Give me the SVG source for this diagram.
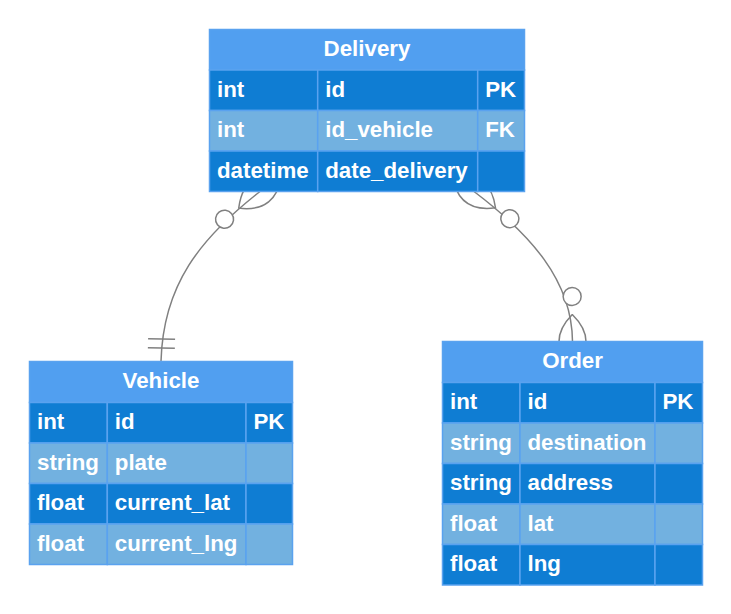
<svg xmlns="http://www.w3.org/2000/svg" width="731" height="614" viewBox="0 0 731 614">
<style>
.hdr{fill:#519ff0;stroke:#5aa2ef;stroke-width:1.5}
.dk{fill:#0f7dd3;stroke:#5aa2ef;stroke-width:1.5}
.lt{fill:#72b1e0;stroke:#5aa2ef;stroke-width:1.5}
text{font-family:"Liberation Sans",Arial,sans-serif;font-weight:bold;font-size:22.3px;fill:#ffffff}
.t{text-anchor:middle}
.rel{fill:none;stroke:#808080;stroke-width:1.5}
.mk{fill:none;stroke:#808080}
.mc{fill:#ffffff;stroke:#808080}
</style>
<defs>
<marker id="zmStart" refX="18" refY="18" markerWidth="57" markerHeight="36" orient="auto" overflow="visible">
<circle class="mc" cx="48" cy="18" r="6"/>
<path class="mk" d="M0,18 Q18,0 36,18 Q18,36 0,18"/>
</marker>
<marker id="zmEnd" refX="39" refY="18" markerWidth="57" markerHeight="36" orient="auto" overflow="visible">
<circle class="mc" cx="9" cy="18" r="6"/>
<path class="mk" d="M21,18 Q39,0 57,18 Q39,36 21,18"/>
</marker>
<marker id="oneEnd" refX="18" refY="9" markerWidth="18" markerHeight="18" orient="auto" overflow="visible">
<path class="mk" d="M3,0 L3,18 M9,0 L9,18"/>
</marker>
</defs>
<g id="connectors">
<path class="rel" d="M260,191.5 C200,238.4 163,285 161,361.5" marker-start="url(#zmStart)" marker-end="url(#oneEnd)"/>
<path class="rel" d="M474,191.5 C530,234 572,280 572.5,341.5" marker-start="url(#zmStart)" marker-end="url(#zmEnd)"/>
</g>
<g id="Delivery">
<rect class="hdr" x="209.5" y="29.5" width="315" height="40.5"/>
<text class="t" x="367" y="56">Delivery</text>
<rect class="dk" x="209.5" y="70" width="108.2" height="40.5"/>
<rect class="dk" x="317.7" y="70" width="160" height="40.5"/>
<rect class="dk" x="477.7" y="70" width="46.8" height="40.5"/>
<rect class="lt" x="209.5" y="110.5" width="108.2" height="40.5"/>
<rect class="lt" x="317.7" y="110.5" width="160" height="40.5"/>
<rect class="lt" x="477.7" y="110.5" width="46.8" height="40.5"/>
<rect class="dk" x="209.5" y="151" width="108.2" height="40.5"/>
<rect class="dk" x="317.7" y="151" width="160" height="40.5"/>
<rect class="dk" x="477.7" y="151" width="46.8" height="40.5"/>
<text x="217" y="96.5">int</text><text x="325.2" y="96.5">id</text><text x="485.2" y="96.5">PK</text>
<text x="217" y="137">int</text><text x="325.2" y="137">id_vehicle</text><text x="485.2" y="137">FK</text>
<text x="217" y="177.5">datetime</text><text x="325.2" y="177.5">date_delivery</text>
</g>
<g id="Vehicle">
<rect class="hdr" x="29.5" y="361.5" width="263" height="41"/>
<text class="t" x="161" y="388">Vehicle</text>
<rect class="dk" x="29.5" y="402.5" width="77.8" height="40.5"/>
<rect class="dk" x="107.3" y="402.5" width="138.7" height="40.5"/>
<rect class="dk" x="246" y="402.5" width="46.5" height="40.5"/>
<rect class="lt" x="29.5" y="443" width="77.8" height="40.5"/>
<rect class="lt" x="107.3" y="443" width="138.7" height="40.5"/>
<rect class="lt" x="246" y="443" width="46.5" height="40.5"/>
<rect class="dk" x="29.5" y="483.5" width="77.8" height="40.5"/>
<rect class="dk" x="107.3" y="483.5" width="138.7" height="40.5"/>
<rect class="dk" x="246" y="483.5" width="46.5" height="40.5"/>
<rect class="lt" x="29.5" y="524" width="77.8" height="40.5"/>
<rect class="lt" x="107.3" y="524" width="138.7" height="40.5"/>
<rect class="lt" x="246" y="524" width="46.5" height="40.5"/>
<text x="37" y="429">int</text><text x="114.8" y="429">id</text><text x="253.5" y="429">PK</text>
<text x="37" y="469.5">string</text><text x="114.8" y="469.5">plate</text>
<text x="37" y="510">float</text><text x="114.8" y="510">current_lat</text>
<text x="37" y="550.5">float</text><text x="114.8" y="550.5">current_lng</text>
</g>
<g id="Order">
<rect class="hdr" x="442.5" y="341.5" width="260" height="41"/>
<text class="t" x="572.5" y="368">Order</text>
<rect class="dk" x="442.5" y="382.5" width="77.5" height="40.5"/>
<rect class="dk" x="520" y="382.5" width="135" height="40.5"/>
<rect class="dk" x="655" y="382.5" width="47.5" height="40.5"/>
<rect class="lt" x="442.5" y="423" width="77.5" height="40.5"/>
<rect class="lt" x="520" y="423" width="135" height="40.5"/>
<rect class="lt" x="655" y="423" width="47.5" height="40.5"/>
<rect class="dk" x="442.5" y="463.5" width="77.5" height="40.5"/>
<rect class="dk" x="520" y="463.5" width="135" height="40.5"/>
<rect class="dk" x="655" y="463.5" width="47.5" height="40.5"/>
<rect class="lt" x="442.5" y="504" width="77.5" height="40.5"/>
<rect class="lt" x="520" y="504" width="135" height="40.5"/>
<rect class="lt" x="655" y="504" width="47.5" height="40.5"/>
<rect class="dk" x="442.5" y="544.5" width="77.5" height="40.5"/>
<rect class="dk" x="520" y="544.5" width="135" height="40.5"/>
<rect class="dk" x="655" y="544.5" width="47.5" height="40.5"/>
<text x="450" y="409">int</text><text x="527.5" y="409">id</text><text x="662.5" y="409">PK</text>
<text x="450" y="449.5">string</text><text x="527.5" y="449.5">destination</text>
<text x="450" y="490">string</text><text x="527.5" y="490">address</text>
<text x="450" y="530.5">float</text><text x="527.5" y="530.5">lat</text>
<text x="450" y="571">float</text><text x="527.5" y="571">lng</text>
</g>
</svg>
